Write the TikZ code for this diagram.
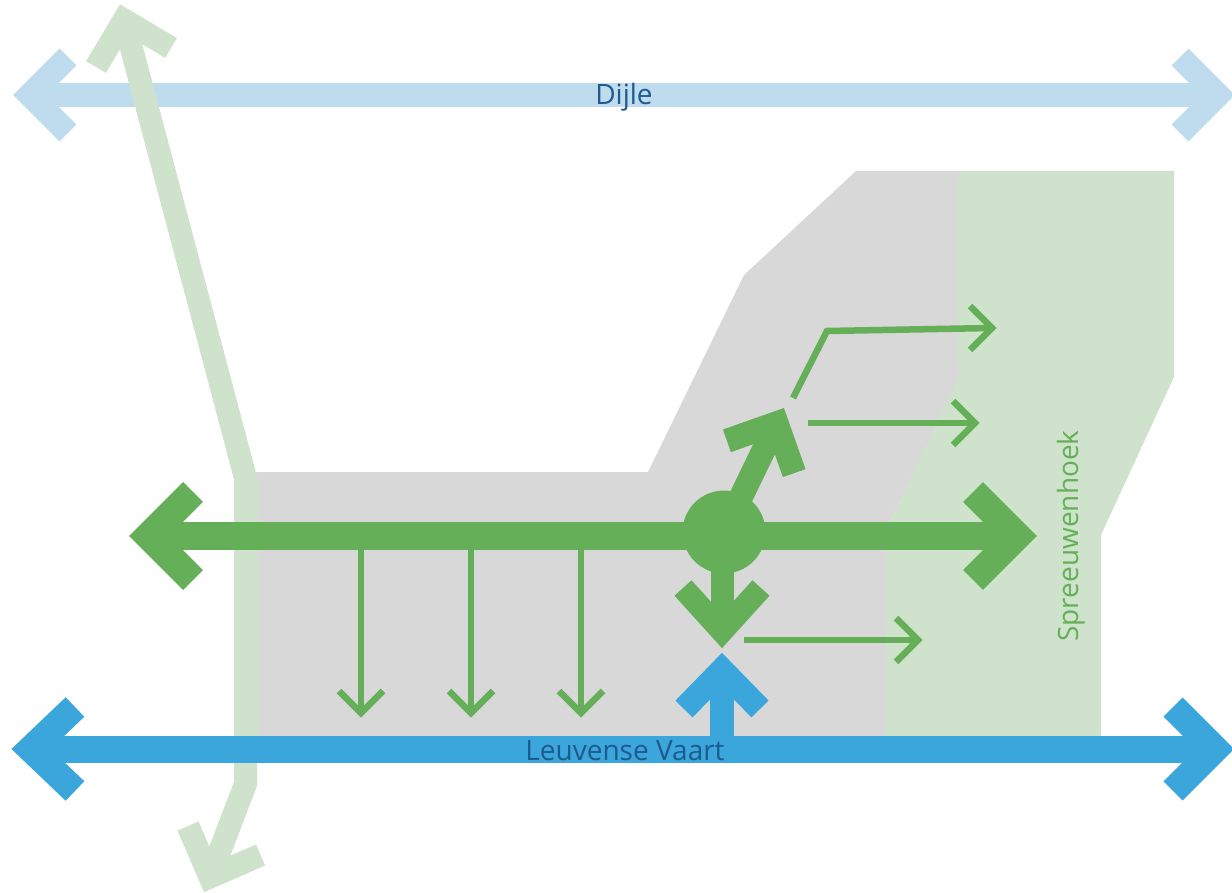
\documentclass[tikz,border=0pt]{standalone}
\usepackage{fontspec}
\setmainfont{Open Sans}
\definecolor{riverlight}{HTML}{BEDCEE}
\definecolor{riverblue}{HTML}{3BA6DC}
\definecolor{paleleaf}{HTML}{CFE3CC}
\definecolor{leafgreen}{HTML}{65AF59}
\definecolor{builtgrey}{HTML}{D8D8D8}
\definecolor{labelblue}{HTML}{1E5A8E}
\begin{document}
\begin{tikzpicture}[x=1pt,y=-1pt,line join=miter,line cap=butt,
  labeltext/.style={font=\fontsize{28}{31}\selectfont,inner sep=0pt},
  dijleband/.style={draw=riverlight,line width=24pt},
  vaartband/.style={draw=riverblue,line width=27pt},
  corridor/.style={draw=paleleaf,line width=23pt},
  mainflow/.style={draw=leafgreen,line width=28pt},
  hubarm/.style={draw=leafgreen,line width=24pt},
  thinflow/.style={draw=leafgreen,line width=6.5pt}]
\useasboundingbox (0,0) rectangle (1232,893);

% Dijle: two-way river arrow at the top
\coordinate (dijleW) at (30,95);
\coordinate (dijleE) at (1218,95);
\draw[dijleband] (dijleW) -- (dijleE);
\draw[dijleband] (68,57) -- (dijleW) -- (68,133);
\draw[dijleband] (1180,57) -- (dijleE) -- (1180,133);

% built-up area and the Spreeuwenhoek green zone
\fill[builtgrey] (856,171) -- (960,171) -- (960,377) -- (886,530) -- (886,749)
  -- (250,749) -- (250,472) -- (648,472) -- (744,275) -- cycle;
\fill[paleleaf] (959,171) -- (1174,171) -- (1174,377) -- (1101,535) -- (1101,749)
  -- (886,749) -- (886,530) -- (959,377) -- cycle;

% green corridor running north-south on the west side
\coordinate (corN) at (124,20);
\coordinate (corS) at (210,877);
\draw[corridor] (corN) -- (245.5,478) -- (245.5,784) -- (corS);
\draw[corridor] (96,67) -- (corN) -- (171,48);
\draw[corridor] (188,826) -- (corS) -- (260.6,855);

% main east-west green axis with the hub
\node[circle,fill=leafgreen,minimum size=83pt,inner sep=0pt] (hub) at (724,532) {};
\coordinate (axisW) at (149,536);
\coordinate (axisE) at (1017,536);
\draw[mainflow] (axisW) -- (axisE);
\draw[mainflow] (193,492) -- (axisW) -- (193,580);
\draw[mainflow] (973,492) -- (axisE) -- (973,580);

% hub branches: north-east and south
\coordinate (hubNE) at (776.6,423.3);
\draw[hubarm] (hub.center) -- (hubNE);
\draw[hubarm] (726.9,440.8) -- (hubNE) -- (794.2,473.1);
\coordinate (hubS) at (722,631);
\draw[line width=23pt,draw=leafgreen] (722,532) -- (hubS);
\draw[line width=23pt,draw=leafgreen] (683,588) -- (hubS) -- (761,588);

% thin links from the axis down towards the canal
\foreach \x/\n in {361/a,471/b,581/c}{
  \coordinate (drop\n) at (\x,713);
  \draw[thinflow] (\x,536) -- (drop\n);
  \draw[thinflow] (\x-22,691) -- (drop\n) -- (\x+22,691);
}

% thin links towards Spreeuwenhoek
\coordinate (linkA) at (992,328);
\draw[thinflow] (793,398) -- (827,331) -- (linkA);
\draw[thinflow] (970,306) -- (linkA) -- (970,350);
\coordinate (linkB) at (975,423);
\draw[thinflow] (808,423) -- (linkB);
\draw[thinflow] (953,401) -- (linkB) -- (953,445);
\coordinate (linkC) at (918,640);
\draw[thinflow] (744,640) -- (linkC);
\draw[thinflow] (896,618) -- (linkC) -- (896,662);

% Leuvense Vaart: canal arrow and the branch towards the hub
\coordinate (vaartW) at (31,749);
\coordinate (vaartE) at (1215,749);
\draw[vaartband] (vaartW) -- (vaartE);
\draw[vaartband] (75,707) -- (vaartW) -- (75,791);
\draw[vaartband] (1173,707) -- (vaartE) -- (1173,791);
\coordinate (vaartN) at (722,670);
\draw[line width=24pt,draw=riverblue] (722,749) -- (vaartN);
\draw[line width=24pt,draw=riverblue] (684,709) -- (vaartN) -- (760,709);

% labels
\node[labeltext,text=labelblue,anchor=base] (dijle) at (624,105) {Dijle};
\node[labeltext,text=labelblue,anchor=base] (vaart) at (625,760) {Leuvense Vaart};
\node[labeltext,text=leafgreen,anchor=base,rotate=90] (spreeuw) at (1078,536) {Spreeuwenhoek};
\end{tikzpicture}
\end{document}
